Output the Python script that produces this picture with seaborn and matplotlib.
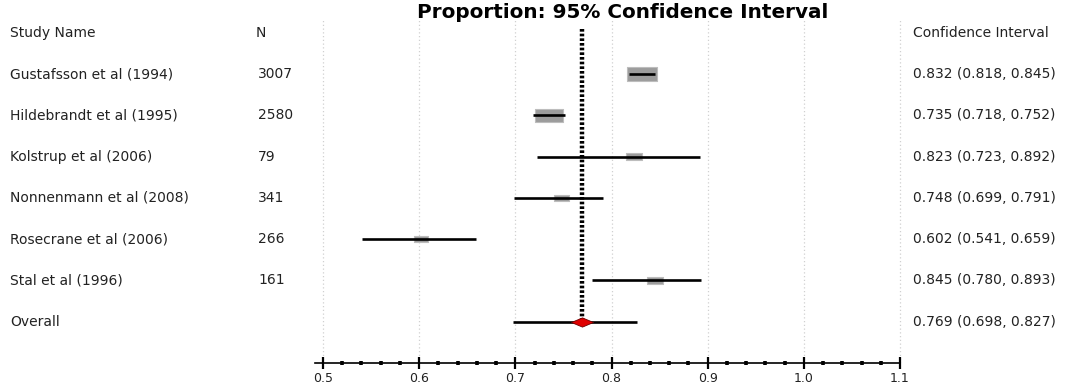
import matplotlib
matplotlib.use("Agg")
import matplotlib.pyplot as plt
import matplotlib.transforms as mtransforms
from matplotlib.path import Path
from matplotlib.ticker import MultipleLocator
import numpy as np
import pandas as pd
import seaborn as sns

# ---------------- data ----------------
studies = ["Gustafsson et al (1994)", "Hildebrandt et al (1995)", "Kolstrup et al (2006)",
           "Nonnenmann et al (2008)", "Rosecrane et al (2006)", "Stal et al (1996)"]
n_values = [3007, 2580, 79, 341, 266, 161]
estimates = [0.832, 0.735, 0.823, 0.748, 0.602, 0.845]
lower = [0.818, 0.718, 0.723, 0.699, 0.541, 0.780]
upper = [0.845, 0.752, 0.892, 0.791, 0.659, 0.893]
box_weight = [30, 28, 15, 14, 14, 15]
overall_label = "Overall"
overall_est = 0.769
overall_lo = 0.698
overall_hi = 0.827
x_ticks = [0.5, 0.6, 0.7, 0.8, 0.9, 1.0, 1.1]
x_tick_labels = ["0.5", "0.6", "0.7", "0.8", "0.9", "1.0", "1.1"]

sns.set_style("white")
plt.rcParams["font.family"] = ["DejaVu Sans"]

df = pd.DataFrame({"study": studies, "n": n_values, "est": estimates,
                   "lo": lower, "hi": upper, "w": box_weight})
df["row"] = np.arange(len(df))
overall_row = len(df)

W, H = 1092, 386
fig = plt.figure(figsize=(W / 100, H / 100), dpi=100)
x0_px, x1_px = 313.4, 909.6
top_px, bot_px = 20, 363
ax = fig.add_axes([x0_px / W, 1 - bot_px / H, (x1_px - x0_px) / W, (bot_px - top_px) / H])
ax.set_xlim(0.49, 1.11)
ax.set_ylim(7, -1.31)

# grid
ax.set_xticks(x_ticks)
ax.set_xticklabels(x_tick_labels)
ax.xaxis.set_minor_locator(MultipleLocator(0.02))
ax.grid(axis="x", which="major", linestyle=(0, (1, 2)), color="#d0d0d0", linewidth=0.9)
ax.grid(axis="y", visible=False)
ax.set_axisbelow(True)

for s in ["top", "left", "right"]:
    ax.spines[s].set_visible(False)
ax.spines["bottom"].set_bounds(0.492, 1.1)
ax.spines["bottom"].set_linewidth(1.2)
ax.spines["bottom"].set_color("black")
ax.set_yticks([])
ax.tick_params(axis="x", which="both", bottom=True)
ax.tick_params(axis="x", which="major", direction="inout", length=9, width=1.6,
               color="black", labelsize=9, pad=2, labelcolor="#222222")
ax.tick_params(axis="x", which="minor", direction="inout", length=3.0, width=2.6, color="black")

# overall vertical dashed line
ax.vlines(overall_est, -1.1, overall_row, colors="black", linewidth=3.2,
          linestyles=[(0, (0.6, 0.45))], zorder=2)

# boxes
rect = Path([(-1, -0.45), (1, -0.45), (1, 0.45), (-1, 0.45), (-1, -0.45)],
            [Path.MOVETO, Path.LINETO, Path.LINETO, Path.LINETO, Path.CLOSEPOLY])
sns.scatterplot(data=df, x="est", y="row", size="w", sizes=(110, 470), marker=rect,
                color="#9c9c9c", edgecolor="#bdbdbd", linewidth=0.8, legend=False,
                ax=ax, zorder=3)

# CI lines
ax.hlines(df["row"], df["lo"], df["hi"], colors="black", linewidth=1.9, zorder=4)
ax.hlines(overall_row, overall_lo, overall_hi, colors="black", linewidth=1.9, zorder=4)

# overall diamond
diamond = Path([(-1, 0), (0, 0.42), (1, 0), (0, -0.42), (-1, 0)],
               [Path.MOVETO, Path.LINETO, Path.LINETO, Path.LINETO, Path.CLOSEPOLY])
ax.scatter([overall_est], [overall_row], s=250, marker=diamond, color="#e00000",
           edgecolor="#700000", linewidth=0.6, zorder=5)

ax.set_xlabel("")
ax.set_ylabel("")

# text columns
tr = mtransforms.blended_transform_factory(fig.transFigure, ax.transData)
fs = 10
tc = "#222222"
fig.text(10 / W, -1, "Study Name", transform=tr, va="center", ha="left", fontsize=fs, color=tc)
fig.text(256 / W, -1, "N", transform=tr, va="center", ha="left", fontsize=fs, color=tc)
fig.text(913 / W, -1, "Confidence Interval", transform=tr, va="center", ha="left", fontsize=fs, color=tc)
for _, r in df.iterrows():
    fig.text(10 / W, r["row"], r["study"], transform=tr, va="center", ha="left", fontsize=fs, color=tc)
    fig.text(258 / W, r["row"], f"{r['n']}", transform=tr, va="center", ha="left", fontsize=fs, color=tc)
    fig.text(913 / W, r["row"], f"{r['est']:.3f} ({r['lo']:.3f}, {r['hi']:.3f})",
             transform=tr, va="center", ha="left", fontsize=fs, color=tc)
fig.text(10 / W, overall_row, overall_label, transform=tr, va="center", ha="left", fontsize=fs, color=tc)
fig.text(913 / W, overall_row, f"{overall_est:.3f} ({overall_lo:.3f}, {overall_hi:.3f})",
         transform=tr, va="center", ha="left", fontsize=fs, color=tc)

fig.text(623 / W, 1 - 13 / H, "Proportion: 95% Confidence Interval", ha="center", va="center",
         fontsize=14.4, fontweight="heavy", color="black")

fig.savefig("out.png", dpi=100)
